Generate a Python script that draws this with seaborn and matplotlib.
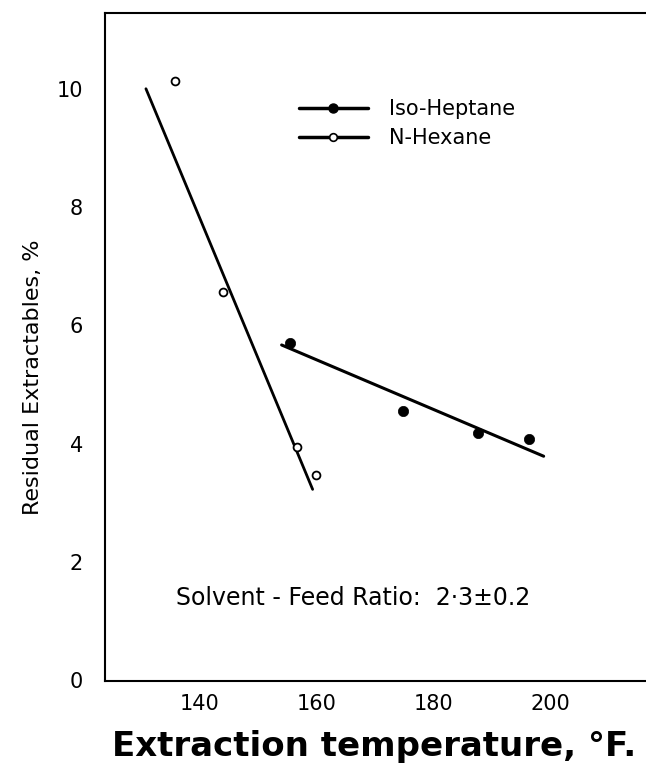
import matplotlib
matplotlib.use("Agg")
import matplotlib.pyplot as plt
from matplotlib.lines import Line2D
import seaborn as sns
import pandas as pd

# ---- data ----
hexane_x = [135.8, 144.0, 156.8, 159.9]
hexane_y = [10.13, 6.56, 3.95, 3.47]
heptane_x = [155.6, 174.8, 187.6, 196.4]
heptane_y = [5.70, 4.55, 4.19, 4.08]
# hand-drawn fit lines (end points)
hexane_fit_x = [130.9, 159.4]
hexane_fit_y = [10.0, 3.23]
heptane_fit_x = [154.1, 198.9]
heptane_fit_y = [5.67, 3.79]

x_ticks = [140, 160, 180, 200]
y_ticks = [0, 2, 4, 6, 8, 10]
series_labels = ["Iso-Heptane", "N-Hexane"]
note_text = "Solvent - Feed Ratio:  2\u00b73\u00b10.2"
x_label = "Extraction temperature, \u00b0F."
y_label = "Residual Extractables, %"

sns.set_theme(style="white")
plt.rcParams["font.family"] = ["DejaVu Sans"]
plt.rcParams["text.color"] = "black"
plt.rcParams["axes.labelcolor"] = "black"

fig = plt.figure(figsize=(6.46, 7.68), dpi=100)
ax = fig.add_axes([105 / 646, (768 - 680.5) / 768, 541 / 646, 667.5 / 768])

df_hex = pd.DataFrame({"x": hexane_x, "y": hexane_y})
df_hep = pd.DataFrame({"x": heptane_x, "y": heptane_y})
df_hex_fit = pd.DataFrame({"x": hexane_fit_x, "y": hexane_fit_y})
df_hep_fit = pd.DataFrame({"x": heptane_fit_x, "y": heptane_fit_y})

sns.lineplot(data=df_hex_fit, x="x", y="y", ax=ax, color="black", linewidth=2.0,
             estimator=None, sort=False)
sns.lineplot(data=df_hep_fit, x="x", y="y", ax=ax, color="black", linewidth=2.2,
             estimator=None, sort=False)
sns.scatterplot(data=df_hex, x="x", y="y", ax=ax, marker="o", s=32,
                facecolor="white", edgecolor="black", linewidth=1.3, zorder=3)
sns.scatterplot(data=df_hep, x="x", y="y", ax=ax, marker="o", s=55,
                color="black", edgecolor="black", linewidth=0.5, zorder=3)

ax.set_xlim(123.9, 216.4)
ax.set_ylim(0, 11.28)
ax.set_xticks(x_ticks)
ax.set_yticks(y_ticks)
ax.tick_params(axis="both", direction="in", length=12, width=1.4, color="black",
               labelsize=15, labelcolor="black")
ax.tick_params(axis="y", pad=16)
ax.tick_params(axis="x", pad=10)
ax.tick_params(top=False, right=False)

for side in ["left", "bottom", "top"]:
    ax.spines[side].set_visible(True)
    ax.spines[side].set_color("black")
    ax.spines[side].set_linewidth(1.5)
ax.spines["right"].set_visible(False)

ax.set_xlabel(x_label, fontsize=24.5, fontweight="bold", color="black")
ax.xaxis.set_label_coords(0.497, -0.0996)
ax.xaxis.label.set_verticalalignment("center")
ax.set_ylabel(y_label, fontsize=16, color="black")
ax.yaxis.set_label_coords(-0.133, 0.455)
ax.yaxis.label.set_verticalalignment("center")

ax.text(136.1, 1.39, note_text, fontsize=17, ha="left", va="center", color="black")

handles = [
    Line2D([0], [0], color="black", linewidth=2.5, marker="o", markersize=6.5,
           markerfacecolor="black", markeredgecolor="black"),
    Line2D([0], [0], color="black", linewidth=2.5, marker="o", markersize=5.5,
           markerfacecolor="white", markeredgecolor="black", markeredgewidth=1.2),
]
leg = ax.legend(handles, series_labels, loc="center left",
                bbox_to_anchor=((299 - 105) / 541, (680.5 - 123.5) / 667.5),
                frameon=False, fontsize=15, handlelength=3.3, handletextpad=1.0,
                labelspacing=0.45, borderpad=0, borderaxespad=0)
for t in leg.get_texts():
    t.set_color("black")

fig.savefig("out.png", dpi=100)
